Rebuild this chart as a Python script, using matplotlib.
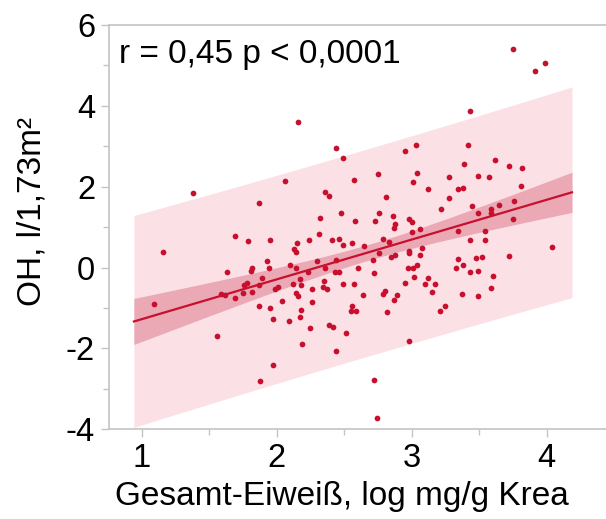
import matplotlib
matplotlib.use("Agg")
from matplotlib import pyplot as plt
from matplotlib.ticker import MultipleLocator
import numpy as np

# Gesamt-Eiweiss (log mg/g Krea) vs OH (l/1,73m2)
protein = np.array([
    1.38, 2.06, 1.87, 2.44, 2.49, 2.36, 2.39, 2.57, 2.75, 2.95,
    3.03, 3.04, 3.01, 3.12, 2.81, 3.42, 3.39, 3.28, 3.49, 3.34,
    3.38, 3.28, 3.45, 3.22, 2.32, 2.48, 2.58, 2.73, 2.76, 2.86,
    2.88, 2.87, 2.98, 3.00, 3.06, 3.00, 3.49, 3.34, 3.43, 1.69,
    1.79, 1.95, 2.15, 2.13, 2.14, 2.24, 2.31, 2.41, 2.46, 2.49,
    2.56, 2.65, 2.79, 2.83, 2.76, 2.98, 2.98, 3.08, 3.06, 2.85,
    2.88, 2.71, 3.34, 3.48, 3.38, 3.33, 3.43, 3.49, 1.63, 1.81,
    1.82, 1.93, 1.94, 1.89, 2.10, 2.14, 2.23, 2.30, 2.36, 2.44,
    2.43, 2.46, 2.60, 2.72, 2.97, 3.01, 3.04, 3.02, 3.12, 3.10,
    3.17, 3.15, 2.95, 1.59, 1.62, 1.69, 1.76, 1.78, 1.75, 1.82,
    1.87, 1.99, 2.01, 2.12, 2.17, 2.18, 2.14, 2.16, 2.26, 2.35,
    2.34, 2.37, 2.49, 2.57, 2.64, 2.79, 2.80, 2.89, 2.87, 1.87,
    1.95, 2.04, 2.26, 2.56, 2.55, 2.59, 2.18, 2.17, 1.97, 2.09,
    2.25, 2.39, 2.42, 2.82, 3.21, 3.25, 3.37, 3.49,
    2.16, 1.16, 3.75, 3.91, 3.99, 3.43, 3.62, 3.72, 3.82, 3.57,
    3.81, 3.76, 3.65, 3.59, 3.59, 3.75, 3.54, 3.54, 4.04, 3.72,
    3.52, 3.60, 3.59, 2.98, 2.72, 2.74, 2.51, 1.09, 1.56, 1.97,
    1.88, 2.44, 2.19,
])
oh = np.array([
    1.84, 2.15, 1.60, 2.95, 2.72, 1.87, 1.76, 2.17, 2.31, 2.89,
    3.03, 2.35, 2.12, 1.94, 1.75, 3.03, 2.56, 2.25, 2.27, 1.94,
    1.96, 1.73, 1.52, 1.45, 1.22, 1.34, 1.16, 1.16, 1.34, 1.27,
    1.07, 0.99, 1.19, 1.13, 0.95, 0.88, 1.34, 0.91, 0.69, 0.78,
    0.65, 0.68, 0.62, 0.47, 0.38, 0.69, 0.82, 0.68, 0.70, 0.57,
    0.61, 0.54, 0.70, 0.64, 0.36, 0.40, 0.35, 0.49, 0.31, 0.26,
    0.31, 0.18, 0.21, 0.24, 0.07, -0.02, -0.11, -0.09, -0.11, -0.09,
    -0.01, 0.16, -0.02, -0.26, 0.07, -0.01, -0.12, 0.16, -0.01, 0.18,
    -0.12, -0.12, -0.02, -0.13, -0.02, -0.02, 0.07, -0.23, -0.26, -0.40,
    -0.40, -0.61, -0.37, -0.65, -0.69, -0.75, -0.44, -0.37, -0.63, -0.61,
    -0.44, -0.52, -0.48, -0.40, -0.29, -0.44, -0.63, -0.70, -0.52, -0.34,
    -0.48, -0.54, -0.40, -0.40, -0.67, -0.65, -0.59, -0.67, -0.81, -0.96,
    -0.99, -0.83, -0.85, -0.94, -1.08, -1.08, -1.06, -1.21, -1.27, -1.33,
    -1.50, -1.41, -1.47, -1.10, -1.08, -0.94, -0.65, -0.70,
    3.60, 0.39, 5.41, 4.86, 5.07, 3.88, 2.66, 2.51, 2.46, 2.25,
    2.02, 1.65, 1.55, 1.44, 1.36, 1.19, 0.91, 0.67, 0.50, 0.29,
    0.26, -0.21, -0.50, -1.81, -2.77, -3.71, -1.61, -0.91, -1.70, -2.41,
    -2.80, -2.07, -1.89,
])
annotation = "r = 0,45 p < 0,0001"

plt.rcParams['font.family'] = ['Liberation Sans', 'DejaVu Sans']
plt.rcParams['axes.unicode_minus'] = False

red = "#c8102e"
grey = "#c4c4c4"

# linear fit with confidence and prediction bands
n = len(protein)
slope, intercept = np.polyfit(protein, oh, 1)
resid = oh - (slope * protein + intercept)
s = np.sqrt(np.sum(resid ** 2) / (n - 2))
x_mean = protein.mean()
sxx = np.sum((protein - x_mean) ** 2)
pad = 0.05 * (protein.max() - protein.min())
xs = np.linspace(protein.min() - pad, protein.max() + pad, 200)
ys = slope * xs + intercept
t = 1.974
ci = t * s * np.sqrt(1 / n + (xs - x_mean) ** 2 / sxx)
pi = t * s * np.sqrt(1 + 1 / n + (xs - x_mean) ** 2 / sxx)

fig = plt.figure(figsize=(6.06, 5.19), dpi=100)
ax = fig.add_axes([109 / 606, 1 - 429.3 / 519, 497 / 606, 404.3 / 519])

ax.fill_between(xs, ys - pi, ys + pi, color="#fbe0e5", lw=0, zorder=1)
ax.fill_between(xs, ys - ci, ys + ci, color="#eaa9b4", lw=0, zorder=2)
ax.plot(xs, ys, color=red, lw=1.6, zorder=3)
ax.scatter(protein, oh, s=17, color=red, lw=0, zorder=4)

ax.set_xlim(0.758, 0.758 + 497 / 135)
ax.set_ylim(-4, 6)
ax.xaxis.set_major_locator(MultipleLocator(1))
ax.xaxis.set_minor_locator(MultipleLocator(0.5))
ax.yaxis.set_major_locator(MultipleLocator(2))
ax.yaxis.set_minor_locator(MultipleLocator(1))
ax.tick_params(which="major", direction="out", length=6, width=1, color=grey,
               labelsize=23.5, pad=4)
ax.tick_params(which="minor", direction="out", length=4, width=1, color=grey)
for side in ["left", "bottom", "top"]:
    ax.spines[side].set_color(grey)
    ax.spines[side].set_linewidth(1.2)
ax.spines["right"].set_visible(False)

ax.text(0.02, 0.965, annotation, transform=ax.transAxes, fontsize=24,
        ha="left", va="top")
fig.text(342 / 606, 1 - 496 / 519, "Gesamt-Eiweiß, log mg/g Krea",
         fontsize=24, ha="center", va="center")
fig.text(32 / 606, 1 - 212 / 519, "OH, l/1,73m²", fontsize=24,
         rotation=90, ha="center", va="center")

fig.savefig("out.png", dpi=100)
